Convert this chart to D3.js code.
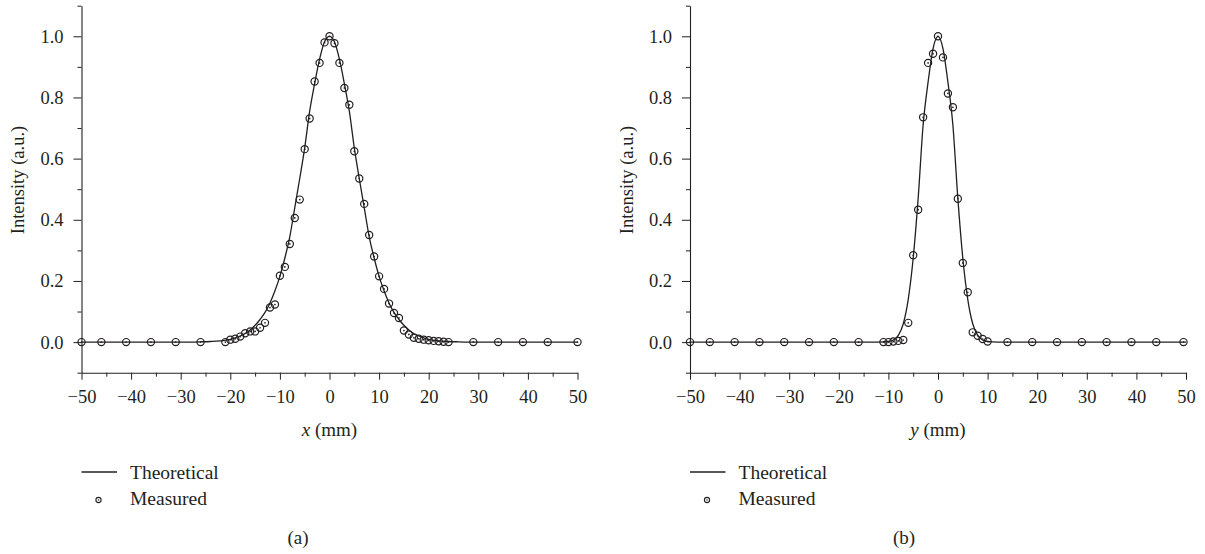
<!DOCTYPE html>
<html>
<head>
<meta charset="utf-8">
<script src="https://cdn.jsdelivr.net/npm/d3@7"></script>
<style>
  html, body { margin: 0; padding: 0; background: #fff; }
  svg text { font-family: "Liberation Serif", "Times New Roman", serif; fill: #231f20; }
</style>
</head>
<body>
<svg id="chart" width="1205" height="554"></svg>
<script>
// ---------- data ----------
const xTicks = [-50, -40, -30, -20, -10, 0, 10, 20, 30, 40, 50];
const xMinorTicks = [-45, -35, -25, -15, -5, 5, 15, 25, 35, 45];
const yTicks = [0, 0.2, 0.4, 0.6, 0.8, 1.0];
const yMinorTicks = [-0.1, 0.1, 0.3, 0.5, 0.7, 0.9, 1.1];

const legendLabels = ["Theoretical", "Measured"];
const panelLabels = ["(a)", "(b)"];
const axisVars = ["x", "y"];

// Panel (a): x profile
const measuredAX = [-50, -46, -41, -36, -31, -26, -21, -20, -19, -18, -17, -16, -15, -14, -13, -12, -11, -10, -9, -8, -7, -6, -5, -4, -3, -2, -1, 0, 1, 2, 3, 4, 5, 6, 7, 8, 9, 10, 11, 12, 13, 14, 15, 16, 17, 18, 19, 20, 21, 22, 23, 24, 29, 34, 39, 44, 50];
const measuredAY = [0, 0, 0, 0, 0, 0, 0.0, 0.008, 0.011, 0.018, 0.029, 0.035, 0.035, 0.047, 0.063, 0.113, 0.123, 0.217, 0.246, 0.321, 0.406, 0.466, 0.631, 0.731, 0.852, 0.913, 0.98, 1.0, 0.977, 0.913, 0.831, 0.776, 0.624, 0.535, 0.452, 0.35, 0.28, 0.215, 0.174, 0.126, 0.095, 0.079, 0.038, 0.025, 0.014, 0.011, 0.008, 0.006, 0.004, 0.003, 0.001, 0, 0, 0, 0, 0, 0];
const theoryAX = [-50, -30, -26, -24, -22, -20, -19, -18, -17, -16, -15, -14, -13, -12, -11, -10, -9, -8, -7, -6, -5, -4, -3, -2, -1, 0, 1, 2, 3, 4, 5, 6, 7, 8, 9, 10, 11, 12, 13, 14, 15, 16, 17, 18, 19, 20, 22, 24, 26, 30, 50];
const theoryAY = [0, 0, 0.001, 0.002, 0.004, 0.009, 0.014, 0.02, 0.028, 0.04, 0.055, 0.074, 0.097, 0.128, 0.168, 0.215, 0.275, 0.345, 0.44, 0.535, 0.635, 0.755, 0.845, 0.925, 0.982, 1.0, 0.982, 0.925, 0.845, 0.755, 0.635, 0.535, 0.44, 0.345, 0.275, 0.215, 0.168, 0.128, 0.097, 0.074, 0.055, 0.04, 0.028, 0.02, 0.014, 0.009, 0.004, 0.002, 0.001, 0, 0];

// Panel (b): y profile
const measuredBX = [-50, -46, -41, -36, -31, -26, -21, -16, -11, -10, -9, -8, -7, -6, -5, -4, -3, -2, -1, 0, 1, 2, 3, 4, 5, 6, 7, 8, 9, 10, 14, 19, 24, 29, 34, 39, 44, 49.5];
const measuredBY = [0, 0, 0, 0, 0, 0, 0, 0, 0, 0, 0.002, 0.004, 0.007, 0.063, 0.284, 0.433, 0.735, 0.913, 0.943, 1.0, 0.931, 0.813, 0.768, 0.469, 0.259, 0.163, 0.032, 0.021, 0.01, 0.002, 0, 0, 0, 0, 0, 0, 0, 0];
const theoryBX = [-50, -14, -12, -11, -10, -9, -8, -7, -6, -5, -4, -3, -2, -1, 0, 1, 2, 3, 4, 5, 6, 7, 8, 9, 10, 11, 12, 14, 50];
const theoryBY = [0, 0, 0, 0.0005, 0.002, 0.007, 0.022, 0.06, 0.14, 0.275, 0.47, 0.71, 0.85, 0.96, 1.0, 0.96, 0.85, 0.71, 0.47, 0.275, 0.14, 0.06, 0.022, 0.007, 0.002, 0.0005, 0, 0, 0];

// ---------- layout ----------
const ink = "#231f20";
const tickFont = 18.5, labelFont = 19, legendFont = 19.5;
const svg = d3.select("#chart");

const panels = [
  { left: 81.5, right: 577.5, mx: measuredAX, my: measuredAY, tx: theoryAX, ty: theoryAY, v: axisVars[0], cap: panelLabels[0], capX: 298 },
  { left: 690, right: 1186, mx: measuredBX, my: measuredBY, tx: theoryBX, ty: theoryBY, v: axisVars[1], cap: panelLabels[1], capX: 904 }
];
const plotTop = 5.7, plotBottom = 372.7;
const fmtX = d => d < 0 ? "\u2212" + Math.abs(d) : String(d);

function marker(g, cx, cy, r, dotR, sw) {
  g.append("circle").attr("cx", cx).attr("cy", cy).attr("r", r)
    .attr("fill", "none").attr("stroke", ink).attr("stroke-width", sw);
  g.append("circle").attr("cx", cx).attr("cy", cy).attr("r", dotR).attr("fill", ink);
}

panels.forEach(p => {
  const x = d3.scaleLinear().domain([-50, 50]).range([p.left, p.right]);
  const y = d3.scaleLinear().domain([-0.1, 1.1]).range([plotBottom, plotTop]);
  const g = svg.append("g");

  // minor ticks
  g.append("g").attr("transform", `translate(0,${plotBottom})`)
    .call(d3.axisBottom(x).tickValues(xMinorTicks).tickFormat("").tickSize(4).tickSizeOuter(0))
    .call(a => a.select(".domain").remove())
    .call(a => a.selectAll("line").attr("stroke", ink));
  g.append("g").attr("transform", `translate(${p.left},0)`)
    .call(d3.axisLeft(y).tickValues(yMinorTicks).tickFormat("").tickSize(4).tickSizeOuter(0))
    .call(a => a.select(".domain").remove())
    .call(a => a.selectAll("line").attr("stroke", ink));

  // major axes
  const xa = g.append("g").attr("transform", `translate(0,${plotBottom})`)
    .call(d3.axisBottom(x).tickValues(xTicks).tickFormat(fmtX).tickSize(7).tickPadding(10.5).tickSizeOuter(0));
  const ya = g.append("g").attr("transform", `translate(${p.left},0)`)
    .call(d3.axisLeft(y).tickValues(yTicks).tickFormat(d3.format(".1f")).tickSize(8).tickPadding(10).tickSizeOuter(0));
  [xa, ya].forEach(a => {
    a.selectAll("line").attr("stroke", ink).attr("stroke-width", 1);
    a.select(".domain").attr("stroke", ink).attr("stroke-width", 1.1);
    a.selectAll("text").attr("font-size", tickFont).attr("font-family", "Liberation Serif").attr("fill", ink);
  });

  // theoretical line
  const pts = p.tx.map((d, i) => [d, p.ty[i]]);
  g.append("path").datum(pts)
    .attr("fill", "none").attr("stroke", ink).attr("stroke-width", 1.3)
    .attr("d", d3.line().x(d => x(d[0])).y(d => y(d[1])).curve(d3.curveMonotoneX));

  // measured markers
  p.mx.forEach((d, i) => marker(g, x(d), y(p.my[i]), 3.6, 0.85, 1.2));

  // axis labels
  g.append("text")
    .attr("transform", `translate(${p.left - 57.5},${y(0.53)}) rotate(-90)`)
    .attr("text-anchor", "middle").attr("font-size", tickFont)
    .text("Intensity (a.u.)");
  const xl = g.append("text").attr("x", x(0)).attr("y", 435.5)
    .attr("text-anchor", "middle").attr("font-size", labelFont);
  xl.append("tspan").attr("font-style", "italic").text(p.v);
  xl.append("tspan").text(" (mm)");

  // legend
  const lx = p.left;
  g.append("line").attr("x1", lx).attr("x2", lx + 35.5).attr("y1", 472).attr("y2", 472)
    .attr("stroke", ink).attr("stroke-width", 1.3);
  g.append("text").attr("x", lx + 48.5).attr("y", 478.5).attr("font-size", legendFont).text(legendLabels[0]);
  marker(g, lx + 17, 500, 2.6, 0.75, 1.1);
  g.append("text").attr("x", lx + 48.5).attr("y", 505).attr("font-size", legendFont).text(legendLabels[1]);

  // caption
  g.append("text").attr("x", p.capX).attr("y", 544).attr("text-anchor", "middle")
    .attr("font-size", labelFont).text(p.cap);
});
</script>
</body>
</html>
